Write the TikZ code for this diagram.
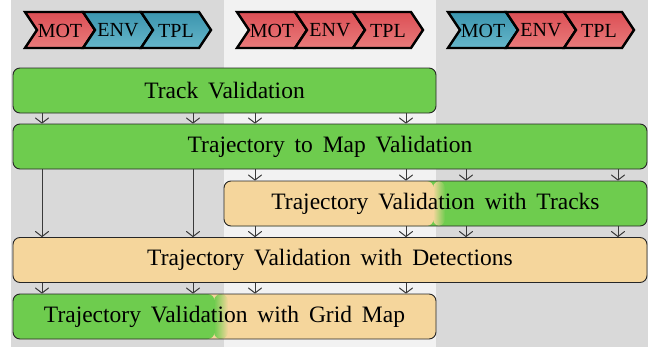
\documentclass[tikz,border=0pt]{standalone}
\usepackage{fontspec}
\setmainfont{Liberation Serif}
\usetikzlibrary{arrows.meta,calc}
\definecolor{bgdark}{HTML}{D9D9D9}
\definecolor{bglight}{HTML}{F2F2F2}
\definecolor{vgreen}{HTML}{6ECC4E}
\definecolor{vtan}{HTML}{F5D69C}
\definecolor{rt}{HTML}{DC4F55}
\definecolor{rb}{HTML}{E97B7B}
\definecolor{bt}{HTML}{3B95AE}
\definecolor{bb}{HTML}{66B6CA}
\definecolor{arrowgray}{HTML}{3A3A3A}
\newcommand\myboxfont{\fontsize{23.5}{27}\selectfont\spaceskip=0.42em\relax}
\tikzset{
  box/.style={draw=black!85, line width=0.9pt, rounded corners=7pt, minimum height=45pt,
    inner sep=0pt, font=\myboxfont, text=black},
  greenbox/.style={box, fill=vgreen},
  tanbox/.style={box, fill=vtan},
  splitfill/.style n args={4}{fill=#2, path picture={
    \fill[#1] (path picture bounding box.south west) rectangle ([xshift=#3+0.5pt]path picture bounding box.north west);
    \shade[left color=#1, right color=#2] ([xshift=#3]path picture bounding box.south west) rectangle ([xshift=#4]path picture bounding box.north west);
  }},
  arr/.style={draw=arrowgray, line width=1pt, -{Straight Barb[width=13pt,length=5pt,line width=1pt,round]}},
  chevtext/.style={inner sep=0pt, font=\fontsize{20}{24}\selectfont, text=black},
  chevshape/.style={draw=black, line width=2.4pt, line join=miter}
}
\begin{document}
\begin{tikzpicture}[x=1pt,y=-1pt]
\useasboundingbox (0,0) rectangle (662,351);
\fill[bgdark] (11,0) rectangle (224,347);
\fill[bglight] (224,0) rectangle (436,347);
\fill[bgdark] (436,0) rectangle (648,347);

% chevrons
\foreach \x/\ct/\cb/\n/\t in {25/rt/rb/mota/MOT, 83/bt/bb/enva/ENV, 141/bt/bb/tpla/TPL,
  237/rt/rb/motb/MOT, 295/rt/rb/envb/ENV, 353/rt/rb/tplb/TPL,
  448/bt/bb/motc/MOT, 506/rt/rb/envc/ENV, 564/rt/rb/tplc/TPL}{
  \path[chevshape, top color=\ct, bottom color=\cb] (\x,12) -- ++(58,0) -- ++(12,18) -- ++(-12,18) -- ++(-58,0) -- ++(12,-18) -- cycle;
  \node[chevtext] (\n) at (\x+35,30.5) {\t};
}

% boxes
\node[greenbox, minimum width=423pt] (track) at (224.5,90.5) {Track Validation};
\node[greenbox, minimum width=634pt] (map) at (330,146.5) {Trajectory to Map Validation};
\node[box, minimum width=423pt, splitfill={vtan}{vgreen}{209pt}{221pt}] (tracks) at (435.5,203.5) {Trajectory Validation with Tracks};
\node[tanbox, minimum width=634pt] (det) at (330,260) {Trajectory Validation with Detections};
\node[box, minimum width=423pt, splitfill={vgreen}{vtan}{201pt}{215pt}] (grid) at (224.5,316.5) {Trajectory Validation with Grid Map};

% arrow columns
\coordinate (a1) at (42,0);
\coordinate (a2) at (193,0);
\coordinate (a3) at (255,0);
\coordinate (a4) at (406,0);
\coordinate (a5) at (466,0);
\coordinate (a6) at (618,0);

\foreach \a in {a1,a2,a3,a4}{
  \draw[arr] (track.south -| \a) -- (map.north -| \a);
  \draw[arr] (det.south -| \a) -- (grid.north -| \a);
}
\foreach \a in {a3,a4,a5,a6}{
  \draw[arr] (map.south -| \a) -- (tracks.north -| \a);
  \draw[arr] (tracks.south -| \a) -- (det.north -| \a);
}
\foreach \a in {a1,a2}{
  \draw[arr] (map.south -| \a) -- (det.north -| \a);
}
\end{tikzpicture}
\end{document}
